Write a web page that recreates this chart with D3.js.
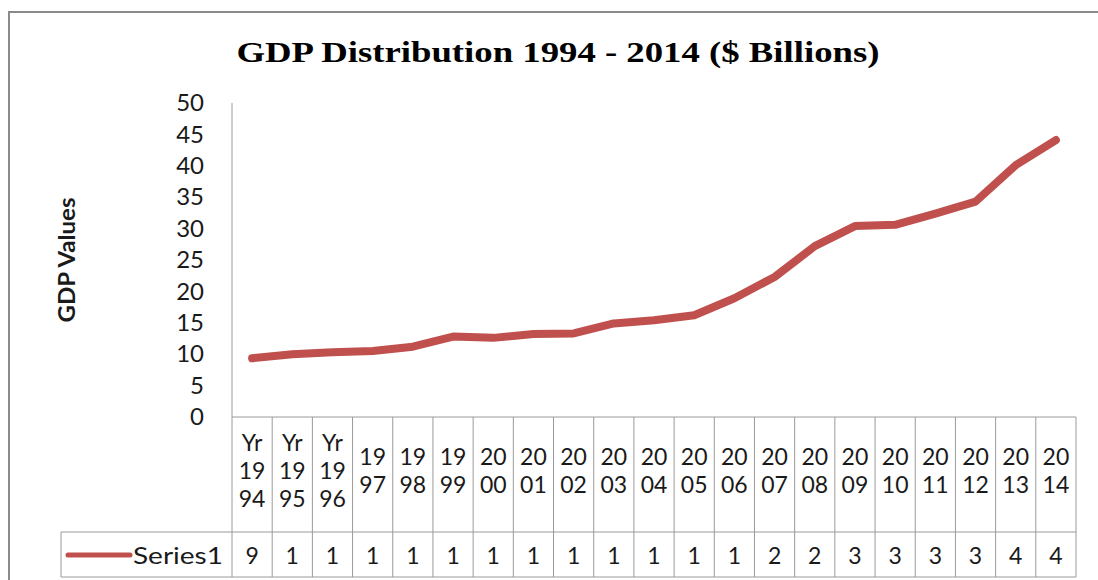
<!DOCTYPE html>
<html>
<head>
<meta charset="utf-8">
<script src="https://cdn.jsdelivr.net/npm/d3@7.9.0/dist/d3.min.js"></script>
<style>
  html, body { margin: 0; padding: 0; background: #fff; }
  svg { display: block; }
  .tick text, .cell, .legend-label { font-family: Lato, "Open Sans", sans-serif; fill: #1a1a1a; }
</style>
</head>
<body>
<svg id="chart" width="1098" height="580"></svg>
<script>
// chart data
const categories = ["Yr 1994", "Yr 1995", "Yr 1996", "1997", "1998", "1999", "2000", "2001", "2002",
  "2003", "2004", "2005", "2006", "2007", "2008", "2009", "2010", "2011", "2012", "2013", "2014"];
const gdpValues = [9.35, 10.0, 10.3, 10.5, 11.2, 12.8, 12.6, 13.2, 13.3, 14.9, 15.4,
  16.2, 18.9, 22.3, 27.2, 30.4, 30.6, 32.4, 34.3, 40.1, 44.1];
const yTicks = [0, 5, 10, 15, 20, 25, 30, 35, 40, 45, 50];
const seriesName = "Series1";
const title = "GDP Distribution 1994 - 2014 ($ Billions)";
const yTitle = "GDP Values";

const lineColor = "#c0504d";
const gridColor = "#9a9a9a";

const svg = d3.select("#chart");

// plot geometry
const plotLeft = 232, plotRight = 1076, plotTop = 103, plotBottom = 417;
const rowMid = 532, tableBottom = 577, tableLeft = 61;

let x = d3.scaleBand().domain(categories).range([plotLeft, plotRight]);
let y = d3.scaleLinear().domain([0, 50]).range([plotBottom, plotTop]);

// outer frame (left + top edges only visible)
svg.append("path")
  .attr("d", "M9,580 V12 H1098")
  .attr("fill", "none")
  .attr("stroke", "#8a8a8a")
  .attr("stroke-width", 2);

// title (the original is a bit stretched sideways)
svg.append("text")
  .attr("x", 558)
  .attr("y", 62)
  .attr("text-anchor", "middle")
  .attr("textLength", 643)
  .attr("lengthAdjust", "spacingAndGlyphs")
  .style("font-family", "'Liberation Serif', 'Times New Roman', serif")
  .style("font-weight", "bold")
  .style("font-size", "30px")
  .text(title);

// y axis title
svg.append("text")
  .attr("transform", "translate(75,260) rotate(-90)")
  .attr("text-anchor", "middle")
  .attr("textLength", 125)
  .attr("lengthAdjust", "spacingAndGlyphs")
  .style("font-family", "Lato, 'Open Sans', sans-serif")
  .style("font-weight", "bold")
  .style("font-size", "23px")
  .attr("fill", "#1a1a1a")
  .text(yTitle);

// y axis
let yAxis = svg.append("g")
  .attr("transform", `translate(${plotLeft},0)`)
  .call(d3.axisLeft(y).tickValues(yTicks).tickSize(0).tickPadding(28));
yAxis.select(".domain").remove();
yAxis.selectAll(".tick text").style("font-size", "24px");

// vertical axis line running down through the data table
svg.append("line")
  .attr("x1", plotLeft).attr("x2", plotLeft)
  .attr("y1", plotTop).attr("y2", tableBottom)
  .attr("stroke", gridColor);

// data table grid
svg.append("line")
  .attr("x1", plotLeft).attr("x2", plotRight)
  .attr("y1", plotBottom).attr("y2", plotBottom)
  .attr("stroke", gridColor);
[rowMid, tableBottom].forEach(yy => {
  svg.append("line")
    .attr("x1", tableLeft).attr("x2", plotRight)
    .attr("y1", yy).attr("y2", yy)
    .attr("stroke", gridColor);
});
svg.append("line")
  .attr("x1", tableLeft).attr("x2", tableLeft)
  .attr("y1", rowMid).attr("y2", tableBottom)
  .attr("stroke", gridColor);
categories.forEach(c => {
  let xr = x(c) + x.bandwidth();
  svg.append("line")
    .attr("x1", xr).attr("x2", xr)
    .attr("y1", plotBottom).attr("y2", tableBottom)
    .attr("stroke", gridColor);
});

// category labels wrapped like the excel table (2 chars per line)
function wrapLabel(label) {
  let lines = [];
  label.split(" ").forEach(w => {
    for (let i = 0; i < w.length; i += 2) lines.push(w.slice(i, i + 2));
  });
  return lines;
}
const lineH = 28;
categories.forEach(c => {
  let lines = wrapLabel(c);
  let y0 = 470 - (lines.length - 1) * lineH / 2;
  let t = svg.append("text")
    .attr("class", "cell")
    .attr("text-anchor", "middle")
    .attr("dominant-baseline", "central")
    .style("font-size", "23px");
  lines.forEach((l, i) => {
    t.append("tspan")
      .attr("x", x(c) + x.bandwidth() / 2)
      .attr("y", y0 + i * lineH)
      .text(l);
  });
});

// value row (values get cut to the first digit in the narrow cells)
gdpValues.forEach((v, i) => {
  svg.append("text")
    .attr("class", "cell")
    .attr("x", x(categories[i]) + x.bandwidth() / 2)
    .attr("y", (rowMid + tableBottom) / 2)
    .attr("text-anchor", "middle")
    .attr("dominant-baseline", "central")
    .style("font-size", "23px")
    .text(String(v)[0]);
});

// legend key in the table
svg.append("line")
  .attr("x1", 68).attr("x2", 130)
  .attr("y1", 555).attr("y2", 555)
  .attr("stroke", lineColor)
  .attr("stroke-width", 5)
  .attr("stroke-linecap", "round");
svg.append("text")
  .attr("class", "legend-label")
  .attr("x", 223)
  .attr("y", 555)
  .attr("text-anchor", "end")
  .attr("dominant-baseline", "central")
  .attr("textLength", 90)
  .attr("lengthAdjust", "spacingAndGlyphs")
  .style("font-size", "23px")
  .text(seriesName);

// the series line
let line = d3.line()
  .x((d, i) => x(categories[i]) + x.bandwidth() / 2)
  .y(d => y(d));

svg.append("path")
  .datum(gdpValues)
  .attr("d", line)
  .attr("fill", "none")
  .attr("stroke", lineColor)
  .attr("stroke-width", 8)
  .attr("stroke-linecap", "round")
  .attr("stroke-linejoin", "round");
</script>
</body>
</html>
